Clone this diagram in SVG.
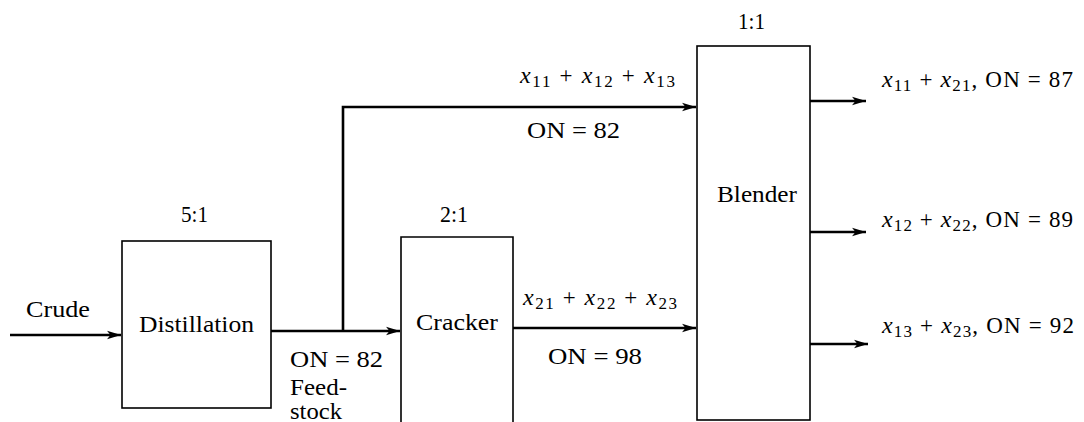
<svg xmlns="http://www.w3.org/2000/svg" width="1084" height="422" viewBox="0 0 1084 422">
<defs>
<marker id="ah" markerUnits="userSpaceOnUse" markerWidth="16" markerHeight="10" refX="14" refY="5" orient="auto">
<path d="M0,0.8 L14,5 L0,9.2 L3.5,5 z" fill="#000"/>
</marker>
<style>
.box{fill:#fff;stroke:#000;stroke-width:1.6}
.open{fill:none;stroke:#000;stroke-width:1.6}
.conn{fill:none;stroke:#000;stroke-width:2.6}
.arr{marker-end:url(#ah)}
text{font-family:"Liberation Serif","Times New Roman",serif;font-size:23px;fill:#000}
.it{font-style:italic;font-size:24px}
.sub{font-size:17px}
</style>
</defs>
<rect width="1084" height="422" fill="#fff"/>
<g id="connectors">
<line class="conn arr" x1="10" y1="335" x2="121" y2="335"/>
<line class="conn arr" x1="271" y1="331" x2="400" y2="331"/>
<polyline class="conn arr" points="343,331 343,107 696,107"/>
<line class="conn arr" x1="513" y1="328" x2="696" y2="328"/>
<line class="conn arr" x1="810" y1="101" x2="866" y2="101"/>
<line class="conn arr" x1="810" y1="232" x2="866" y2="232"/>
<line class="conn arr" x1="810" y1="344" x2="868" y2="344"/>
</g>
<g id="labels">
<text x="26" y="317" textLength="64" lengthAdjust="spacingAndGlyphs">Crude</text>
<text x="290" y="367" textLength="93" lengthAdjust="spacingAndGlyphs">ON = 82</text>
<text x="290" y="395" textLength="57" lengthAdjust="spacingAndGlyphs">Feed-</text>
<text x="290" y="419" textLength="52" lengthAdjust="spacingAndGlyphs">stock</text>
<text x="520" y="83" textLength="155"><tspan class="it">x</tspan><tspan class="sub" dy="4">11</tspan><tspan dy="-4"> + </tspan><tspan class="it">x</tspan><tspan class="sub" dy="4">12</tspan><tspan dy="-4"> + </tspan><tspan class="it">x</tspan><tspan class="sub" dy="4">13</tspan></text>
<text x="527" y="138" textLength="93" lengthAdjust="spacingAndGlyphs">ON = 82</text>
<text x="523" y="305" textLength="154"><tspan class="it">x</tspan><tspan class="sub" dy="4">21</tspan><tspan dy="-4"> + </tspan><tspan class="it">x</tspan><tspan class="sub" dy="4">22</tspan><tspan dy="-4"> + </tspan><tspan class="it">x</tspan><tspan class="sub" dy="4">23</tspan></text>
<text x="548" y="364" textLength="94" lengthAdjust="spacingAndGlyphs">ON = 98</text>
<text x="882" y="87" textLength="191"><tspan class="it">x</tspan><tspan class="sub" dy="4">11</tspan><tspan dy="-4"> + </tspan><tspan class="it">x</tspan><tspan class="sub" dy="4">21</tspan><tspan dy="-4">, ON = 87</tspan></text>
<text x="882" y="227" textLength="191"><tspan class="it">x</tspan><tspan class="sub" dy="4">12</tspan><tspan dy="-4"> + </tspan><tspan class="it">x</tspan><tspan class="sub" dy="4">22</tspan><tspan dy="-4">, ON = 89</tspan></text>
<text x="882" y="333" textLength="192"><tspan class="it">x</tspan><tspan class="sub" dy="4">13</tspan><tspan dy="-4"> + </tspan><tspan class="it">x</tspan><tspan class="sub" dy="4">23</tspan><tspan dy="-4">, ON = 92</tspan></text>
</g>
<g id="distillation">
<rect class="box" x="122" y="241" width="149" height="167"/>
<text x="139" y="332" textLength="115" lengthAdjust="spacingAndGlyphs">Distillation</text>
<text x="181" y="222" textLength="27" lengthAdjust="spacingAndGlyphs">5:1</text>
</g>
<g id="cracker">
<path class="open" d="M401,430 V237 H513 V430"/>
<text x="416" y="330" textLength="82" lengthAdjust="spacingAndGlyphs">Cracker</text>
<text x="440" y="222" textLength="28" lengthAdjust="spacingAndGlyphs">2:1</text>
</g>
<g id="blender">
<rect class="box" x="697" y="46" width="113" height="374"/>
<text x="717" y="202" textLength="80" lengthAdjust="spacingAndGlyphs">Blender</text>
<text x="738" y="29" textLength="27" lengthAdjust="spacingAndGlyphs">1:1</text>
</g>
</svg>
